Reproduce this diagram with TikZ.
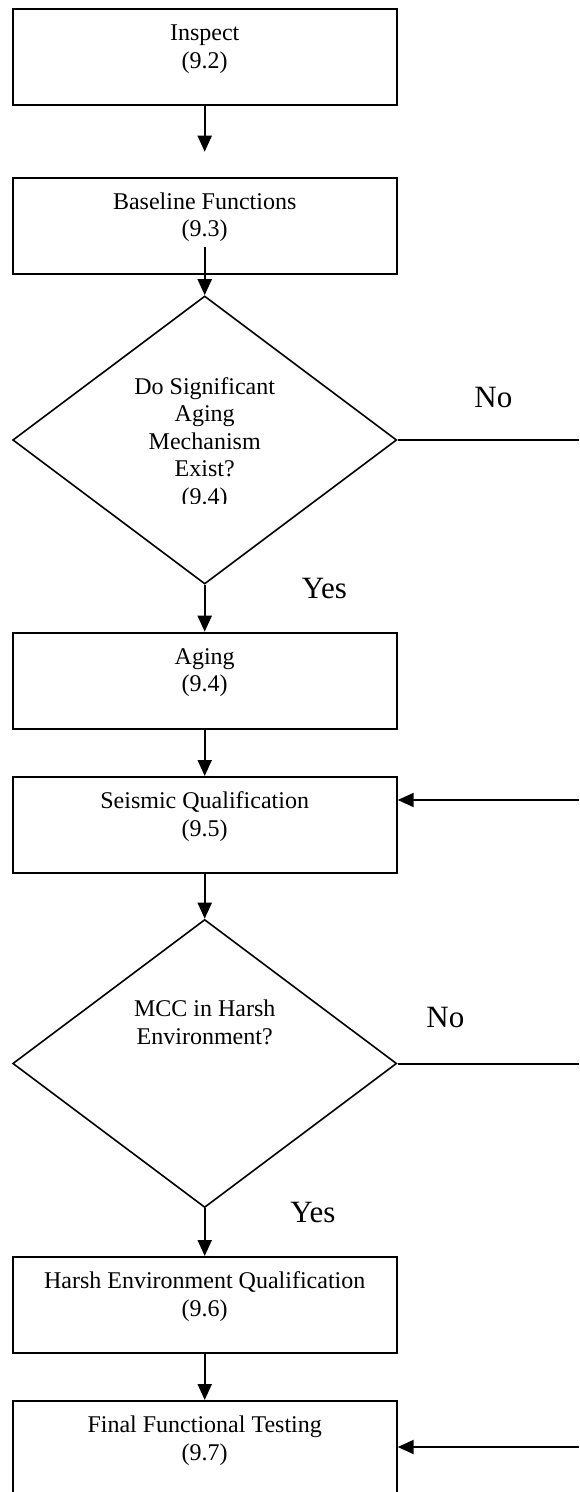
\documentclass[tikz,border=0pt]{standalone}
\usepackage{fontspec}
\setmainfont{Liberation Serif}
\usetikzlibrary{arrows.meta,shapes.geometric}
\begin{document}
\begin{tikzpicture}[x=0.5pt,y=-0.5pt,
  boxtext/.style={font=\fontsize{12pt}{13.75pt}\selectfont},
  stepbox/.style={boxtext, draw, line width=1pt, rectangle, inner sep=0pt,
    minimum width=192pt, text height=29.5pt, text depth=18.5pt,
    align=center, anchor=north},
  decision/.style={boxtext, draw, line width=0.8pt, diamond, inner sep=0pt,
    minimum width=192pt, minimum height=144pt, align=center},
  arr/.style={line width=1pt, -{Triangle[length=8pt,width=7pt]}},
  link/.style={line width=1pt},
  answer/.style={font=\fontsize{15.5pt}{18pt}\selectfont, anchor=base west, inner sep=0pt}]
\useasboundingbox (0,0) rectangle (579,1492);

% process boxes
\node[stepbox] (inspect)  at (204.7,8.3)   {Inspect\\(9.2)};
\node[stepbox] (baseline) at (204.7,176.7) {Baseline Functions\\(9.3)};
\node[stepbox] (aging)    at (204.7,631.7) {Aging\\(9.4)};
\node[stepbox] (seismic)  at (204.7,776)   {Seismic Qualification\\(9.5)};
\node[stepbox] (harsh)    at (204.7,1256)  {Harsh Environment Qualification\\(9.6)};
\node[stepbox] (final)    at (204.7,1400)  {Final Functional Testing\\(9.7)};

% decisions
\node[decision, text height=46.5pt, text depth=10pt] (d1) at (204.7,440)
  {Do Significant\\Aging\\Mechanism\\Exist?};
\begin{scope}
  \clip (0,480) rectangle (579,503.5);
  \node[boxtext, anchor=base, inner sep=0pt] (d1num) at (204.7,504.5) {(9.4)};
\end{scope}
\node[decision, text height=5pt, text depth=24.5pt] (d2) at (204.7,1063.5)
  {MCC in Harsh\\Environment?};

% free ends
\coordinate (c1) at (204.7,151.7);
\coordinate (b2in) at (204.7,246.7);
\coordinate (e1) at (579,440);
\coordinate (r1) at (579,800);
\coordinate (e2) at (579,1063.5);
\coordinate (r2) at (579,1447);

% connectors
\draw[arr] (inspect.south) -- (c1);
\draw[arr] (b2in) -- (d1.north);
\draw[arr] (d1.south) -- (aging.north);
\draw[arr] (aging.south) -- (seismic.north);
\draw[arr] (seismic.south) -- (d2.north);
\draw[arr] (d2.south) -- (harsh.north);
\draw[arr] (harsh.south) -- (final.north);
\draw[link] (d1.east) -- (e1);
\draw[arr] (r1) -- (r1 -| seismic.east);
\draw[link] (d2.east) -- (e2);
\draw[arr] (r2) -- (r2 -| final.east);

% answers
\node[answer] (no1)  at (474,407)  {No};
\node[answer] (yes1) at (301.5,598) {Yes};
\node[answer] (no2)  at (426,1027) {No};
\node[answer] (yes2) at (290,1222) {Yes};
\end{tikzpicture}
\end{document}
